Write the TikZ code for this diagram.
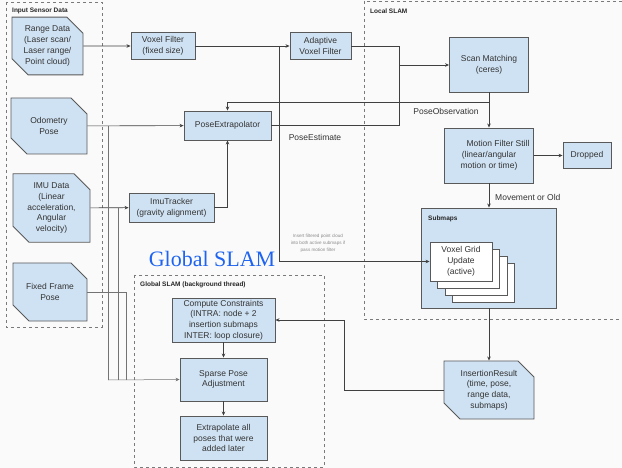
\documentclass[tikz,border=0pt]{standalone}
\usepackage{fontspec}
\setmainfont{Liberation Sans}
\newfontfamily\titlefont{Liberation Serif}
\usetikzlibrary{shapes.misc,arrows.meta}
\definecolor{boxblue}{HTML}{CFE2F3}
\definecolor{edgegray}{HTML}{595959}
\definecolor{titleblue}{HTML}{1E64F0}
\definecolor{bggray}{HTML}{FAFAFA}

\begin{document}
\begin{tikzpicture}[x=1pt, y=-1pt, >={Stealth[length=4pt,width=3.5pt]}, font=\fontsize{8.5}{10.7}\selectfont]
        \tikzstyle{every node}=[inner sep=1pt, align=center, text=black!80]
        \tikzstyle{proc}=[rectangle, draw=edgegray, line width=0.9pt, fill=boxblue]
        \tikzstyle{sensor}=[chamfered rectangle, chamfered rectangle corners={north east,south west}, chamfered rectangle xsep=8pt, chamfered rectangle ysep=8pt, draw=edgegray, line width=0.9pt, fill=boxblue]
        \tikzstyle{group}=[draw=edgegray!80, dashed, line width=0.8pt]
        \tikzstyle{flow}=[draw=black!75, line width=0.6pt]
        \tikzstyle{thinflow}=[draw=black!55, line width=0.5pt]
        \tikzstyle{grouplabel}=[font=\fontsize{6.5}{8}\selectfont\bfseries, anchor=west, text=black!85]
        \useasboundingbox[fill=bggray] (0,0) rectangle (622,468);
        % dashed groups
        \draw[group] (6,2) rectangle (102,327);
        \draw[group] (364,1) rectangle (640,319);
        \draw[group] (134,275) rectangle (324,467);
        \node[grouplabel] (inlbl) at (11,11) {Input Sensor Data};
        \node[grouplabel] (locallbl) at (369,11) {Local SLAM};
        \node[grouplabel] (globallbl) at (139,285) {Global SLAM (background thread)};
        \node[font=\titlefont\fontsize{22}{25}\selectfont, text=titleblue] (gtitle) at (212,259) {Global SLAM};
        % sensors
        \node[sensor, minimum width=71pt, minimum height=50pt] (range) at (47.5,46) {Range Data\\(Laser scan/\\Laser range/\\Point cloud)};
        \node[sensor, minimum width=76pt, minimum height=56pt] (odom) at (49,126) {Odometry\\Pose};
        \node[sensor, minimum width=77pt, minimum height=60pt] (imu) at (51.5,208) {IMU Data\\(Linear\\acceleration,\\Angular\\velocity)};
        \node[sensor, minimum width=74pt, minimum height=58pt] (fixed) at (50,292) {Fixed Frame\\Pose};
        % local side
        \node[proc, minimum width=64pt, minimum height=27pt] (voxf) at (163,46) {Voxel Filter\\(fixed size)};
        \node[proc, minimum width=61pt, minimum height=27pt] (avf) at (320.5,46) {Adaptive\\Voxel Filter};
        \node[proc, minimum width=87pt, minimum height=29pt] (pe) at (227.5,125.5) {PoseExtrapolator};
        \node[proc, minimum width=85pt, minimum height=29pt] (imut) at (171.5,207.5) {ImuTracker\\(gravity alignment)};
        \node[proc, minimum width=79pt, minimum height=55pt] (scan) at (489,64.5) {Scan Matching\\(ceres)};
        \node[proc, minimum width=89pt, minimum height=55pt] (motion) at (489,155.5) {\hspace*{18pt}Motion Filter Still\\(linear/angular\\motion or time)};
        \node[proc, minimum width=48pt, minimum height=26pt] (drop) at (587,155.5) {Dropped};
        \node[proc, minimum width=135pt, minimum height=100pt] (submaps) at (489,258) {};
        \node[grouplabel] (sublbl) at (427,219) {Submaps};
        \foreach \d in {3,2,1}
            \node[proc, fill=white, minimum width=62pt, minimum height=39pt] (vg\d) at (461+7.5*\d,261.5+7*\d) {};
        \node[proc, fill=white, minimum width=62pt, minimum height=39pt] (voxgrid) at (461,261.5) {Voxel Grid\\Update\\(active)};
        \node[sensor, minimum width=90pt, minimum height=52pt] (insert) at (489,390) {InsertionResult\\(time, pose,\\range data,\\submaps)};
        % global side
        \node[proc, minimum width=103pt, minimum height=44pt] (cc) at (223.5,320) {Compute Constraints\\(INTRA: node + 2\\insertion submaps\\INTER: loop closure)};
        \node[proc, minimum width=87pt, minimum height=43pt] (spa) at (223.5,379.5) {Sparse Pose\\Adjustment};
        \node[proc, minimum width=87pt, minimum height=44pt] (extra) at (223.5,438) {Extrapolate all\\poses that were\\added later};
        % edge labels
        \node (poseobs) at (446,111) {PoseObservation};
        \node (poseest) at (315,137) {PoseEstimate};
        \node[anchor=west] (movold) at (494,197) {Movement or Old};
        \node[font=\fontsize{4.6}{7}\selectfont, text=black!45] (note) at (318,243) {Insert filtered point cloud\\into both active submaps if\\pass motion filter};
        % junctions
        \coordinate (jv) at (279,46);
        \coordinate (jm) at (399,65);
        \coordinate (jo) at (489,102);
        \coordinate (ji) at (344,320);
        \coordinate (jodo) at (108,126);
        \coordinate (jimu) at (118,208);
        \coordinate (jfix) at (126,292);
        \coordinate (jspa) at (108,380);
        % connectors
        \draw[flow,->] (range) -- (voxf);
        \draw[flow,->] (voxf) -- (avf);
        \draw[flow,->] (jv) |- (voxgrid.west);
        \draw[flow] (avf.east) -| (jm);
        \draw[flow] (pe.east) -| (jm);
        \draw[flow,->] (jm) -- (scan.west |- jm);
        \draw[flow,->] (scan) -- (motion);
        \draw[flow,->] (jo) -| (pe.north);
        \draw[flow,->] (motion) -- (drop);
        \draw[flow,->] (motion) -- (submaps);
        \draw[flow,->] (submaps) -- (insert);
        \draw[flow] (insert.west) -| (ji);
        \draw[flow,->] (ji) -- (cc.east);
        \draw[flow,->] (odom) -- (pe);
        \draw[flow,->] (imu) -- (imut);
        \draw[flow,->] (imut.east) -| (pe.south);
        \draw[thinflow] (jodo) -- (jspa);
        \draw[thinflow] (jimu) -- (jimu |- jspa);
        \draw[thinflow] (fixed.east) -| (jfix |- jspa);
        \draw[thinflow,->] (jspa) -- (spa.west);
        \draw[flow,->] (cc) -- (spa);
        \draw[flow,->] (spa) -- (extra);
    \end{tikzpicture}
\end{document}
